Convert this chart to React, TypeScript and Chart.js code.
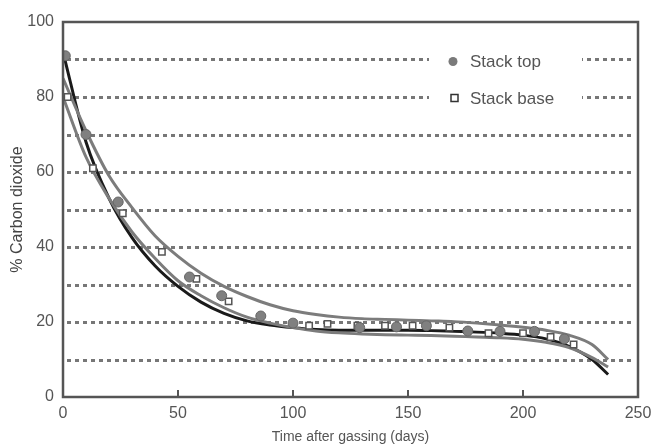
import React, { useEffect, useRef } from "react";
import { Chart, registerables } from "chart.js";
Chart.register(...registerables);

const xTicks = [0, 50, 100, 150, 200, 250];
const yLabelled = [0, 20, 40, 60, 80, 100];
const gridLevels = [10, 20, 30, 40, 50, 60, 70, 80, 90];

const topDays = [1, 10, 24, 55, 69, 86, 100, 129, 145, 158, 176, 190, 205, 218];
const topCO2 = [91, 70, 52, 32, 27, 21.6, 19.7, 18.5, 18.7, 19, 17.6, 17.5, 17.5, 15.5];

const baseDays = [2, 13, 26, 43, 58, 72, 107, 115, 128, 140, 152, 168, 185, 200, 212, 222];
const baseCO2 = [80, 61, 49, 38.7, 31.5, 25.5, 19, 19.5, 19, 19, 19, 18.5, 17, 17, 16, 14];

const fitDays = [0, 10, 20, 30, 40, 50, 60, 70, 80, 90, 100, 110, 120, 130, 140, 150, 160, 170, 180, 190, 200, 210, 220, 230, 237];
const fitUpper = [85, 71, 59, 50.5, 43, 37.5, 33, 29.5, 26.8, 24.6, 23, 22, 21.3, 20.9, 20.7, 20.5, 20.3, 20.1, 19.7, 19.2, 18.6, 17.8, 16.5, 14, 10];
const fitLower = [80, 64, 53, 44, 37, 31, 27, 23.8, 21.3, 19.7, 18.5, 17.6, 17.1, 16.8, 16.6, 16.5, 16.4, 16.2, 16, 15.8, 15.4, 14.6, 13.2, 10.5, 8];
const fitBlack = [92, 68, 53, 42.5, 35, 29.5, 25.3, 22.3, 20.3, 19.2, 18.5, 18, 17.8, 17.8, 17.8, 17.8, 17.7, 17.5, 17.3, 17, 16.5, 15.5, 13.5, 10, 6];

const legendLabels = ["Stack top", "Stack base"];

const pts = (xs: number[], ys: number[]) => xs.map((x, i) => ({ x, y: ys[i] }));
const FONT = "'Liberation Sans', Arial, sans-serif";

const decor = {
  id: "decor",
  beforeDatasetsDraw(chart: any) {
    const { ctx, chartArea, scales } = chart;
    const { left, right } = chartArea;
    const y = scales.y;
    ctx.save();
    ctx.strokeStyle = "#777";
    ctx.lineWidth = 3;
    ctx.setLineDash([4, 4]);
    gridLevels.forEach((v) => {
      const py = Math.round(y.getPixelForValue(v)) + 0.5;
      ctx.beginPath();
      ctx.moveTo(left + 4, py);
      ctx.lineTo(right - 3, py);
      ctx.stroke();
    });
    ctx.setLineDash([]);
    ctx.fillStyle = "#fff";
    [90, 80].forEach((v) => {
      const py = y.getPixelForValue(v);
      ctx.fillRect(429, py - 6, 153, 12);
    });
    ctx.restore();
  },
  afterDatasetsDraw(chart: any) {
    const { ctx, chartArea, scales } = chart;
    const { left, right, top, bottom } = chartArea;
    const x = scales.x;
    const y = scales.y;
    ctx.save();
    ctx.strokeStyle = "#555";
    ctx.lineWidth = 2.5;
    ctx.strokeRect(left, top, right - left, bottom - top);
    ctx.lineWidth = 2;
    xTicks.slice(1, -1).forEach((v) => {
      const px = x.getPixelForValue(v);
      ctx.beginPath();
      ctx.moveTo(px, bottom);
      ctx.lineTo(px, bottom - 7);
      ctx.stroke();
    });
    const r1 = y.getPixelForValue(90) + 2;
    const r2 = y.getPixelForValue(80) + 1;
    ctx.fillStyle = "#7a7a7a";
    ctx.beginPath();
    ctx.arc(453, r1, 4.5, 0, Math.PI * 2);
    ctx.fill();
    ctx.fillStyle = "#fff";
    ctx.strokeStyle = "#333";
    ctx.lineWidth = 1.5;
    ctx.fillRect(451, r2 - 3.5, 7, 7);
    ctx.strokeRect(451, r2 - 3.5, 7, 7);
    ctx.fillStyle = "#555";
    ctx.font = "17px " + FONT;
    ctx.textBaseline = "middle";
    ctx.fillText(legendLabels[0], 470, r1 + 1);
    ctx.fillText(legendLabels[1], 470, r2 + 1);
    ctx.restore();
  },
};

export default function App() {
  const ref = useRef<HTMLCanvasElement>(null);
  useEffect(() => {
    if (!ref.current) return;
    const fit = (label: string, ys: number[], color: string) => ({
      label,
      data: pts(fitDays, ys),
      showLine: true,
      pointRadius: 0,
      borderColor: color,
      borderWidth: 3,
      cubicInterpolationMode: "monotone" as const,
    });
    const chart = new Chart(ref.current, {
      type: "scatter",
      data: {
        datasets: [
          {
            label: legendLabels[0],
            data: pts(topDays, topCO2),
            pointStyle: "circle",
            pointRadius: 5,
            backgroundColor: "#808080",
            borderColor: "#666",
            borderWidth: 1,
            showLine: false,
          },
          {
            label: legendLabels[1],
            data: pts(baseDays, baseCO2),
            pointStyle: "rect",
            pointRadius: 4.5,
            backgroundColor: "#fff",
            borderColor: "#555",
            borderWidth: 1.5,
            showLine: false,
          },
          fit("fit upper", fitUpper, "#7c7c7c"),
          fit("fit lower", fitLower, "#7c7c7c"),
          fit("fit black", fitBlack, "#1a1a1a"),
        ] as any,
      },
      options: {
        animation: false,
        responsive: false,
        layout: { padding: { top: 22, right: 13, left: 0, bottom: 0 } },
        plugins: { legend: { display: false }, tooltip: { enabled: false } },
        scales: {
          x: {
            type: "linear",
            min: 0,
            max: 250,
            afterBuildTicks: (s: any) => {
              s.ticks = xTicks.map((v) => ({ value: v }));
            },
            afterFit: (s: any) => {
              s.height = 51;
              s.paddingRight = 0;
              s.paddingLeft = 0;
            },
            grid: { display: false, drawTicks: false },
            border: { display: false },
            ticks: {
              color: "#555",
              padding: 7,
              maxRotation: 0,
              font: { family: FONT, size: 16 },
            },
            title: {
              display: true,
              text: "Time after gassing (days)",
              color: "#555",
              padding: { top: 0, bottom: 2 },
              font: { family: FONT, size: 14 },
            },
          },
          y: {
            type: "linear",
            min: 0,
            max: 100,
            afterBuildTicks: (s: any) => {
              s.ticks = yLabelled.map((v) => ({ value: v }));
            },
            afterFit: (s: any) => {
              s.width = 63;
              s.paddingTop = 0;
              s.paddingBottom = 0;
            },
            grid: { display: false, drawTicks: false },
            border: { display: false },
            ticks: {
              color: "#555",
              padding: 9,
              font: { family: FONT, size: 16 },
            },
            title: {
              display: true,
              text: "% Carbon dioxide",
              color: "#444",
              padding: { top: 8, bottom: 0 },
              font: { family: FONT, size: 16 },
            },
          },
        },
      },
      plugins: [decor],
    });
    return () => chart.destroy();
  }, []);
  return (
    <div style={{ position: "absolute", left: 0, top: 0, width: 651, height: 448, background: "#fff" }}>
      <canvas ref={ref} width={651} height={448} />
    </div>
  );
}
